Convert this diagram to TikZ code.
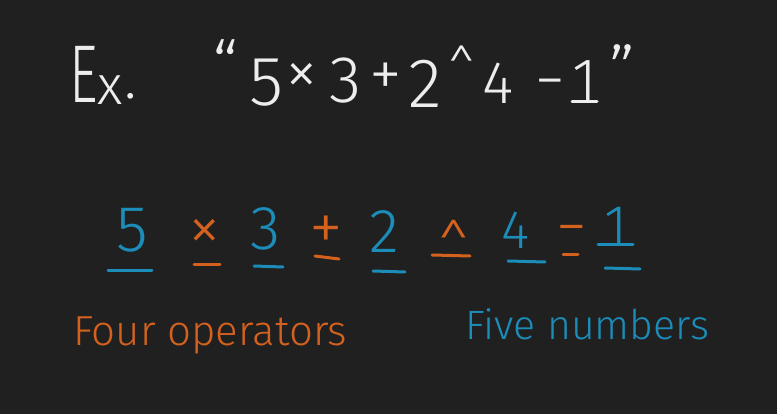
\documentclass[tikz,border=0pt]{standalone}
\usepackage{fontspec}
\setmainfont{Fira Sans Light}
\definecolor{bgc}{HTML}{202020}
\definecolor{inkw}{HTML}{EDEDED}
\definecolor{inkb}{HTML}{1C8CB8}
\definecolor{inko}{HTML}{D4621E}
\newcommand{\fsz}[1]{\fontsize{#1}{#1}\selectfont}
\begin{document}
\begin{tikzpicture}[x=1pt,y=-1pt,
  ch/.style={inner sep=0pt,outer sep=0pt,anchor=center},
  wch/.style={ch,text=inkw},
  bch/.style={ch,text=inkb},
  och/.style={ch,text=inko},
  uline/.style={line width=3pt,line cap=round},
  bline/.style={uline,draw=inkb},
  oline/.style={uline,draw=inko},
  wline/.style={uline,draw=inkw}]
\fill[bgc] (0,0) rectangle (777,414);
\useasboundingbox (0,0) rectangle (777,414);
% top line
\node[wch,font=\fsz{82}] (tE) at (84,74) {\scalebox{0.68}[1]{E}};
\node[wch,font=\fsz{55}] (tx) at (110,90) {x};
\node[wch,font=\fsz{60}] (tdot) at (131,96) {.};
\node[wch,font=\fsz{70}] (tq1) at (225,66) {``};
\node[wch,font=\fsz{70}] (t5) at (267,83) {5};
\node[wch,font=\fsz{66}] (tmul) at (302,79) {×};
\node[wch,font=\fsz{66}] (t3) at (346,81) {3};
\node[wch,font=\fsz{66}] (tplus) at (386,80) {+};
\node[wch,font=\fsz{70}] (t2) at (425,84) {2};
\node[wch,font=\fsz{50}] (tcar) at (462,67) {\textasciicircum};
\node[wch,font=\fsz{60}] (t4) at (498,83) {4};
\node[wch,font=\fsz{60}] (tmin) at (550,90) {−};
\node[wch,font=\fsz{60}] (t1) at (585,81) {1};
\node[wch,font=\fsz{70}] (tq2) at (622,71) {''};
\coordinate (tfootl) at (572,102);
\coordinate (tfootr) at (597,102);
\draw[wline] (tfootl) -- (tfootr);
% middle row
\node[bch,font=\fsz{65}] (m5) at (132,230) {5};
\node[och,font=\fsz{66}] (mmul) at (205,235) {×};
\node[bch,font=\fsz{62}] (m3) at (266,229) {3};
\node[och,font=\fsz{68}] (mplus) at (326,233) {+};
\node[bch,font=\fsz{62}] (m2) at (384,232) {2};
\node[och,font=\fsz{58}] (mcar) at (454,244) {\textasciicircum};
\node[bch,font=\fsz{54}] (m4) at (515,230) {4};
\node[och,font=\fsz{62}] (mmin) at (572,236) {−};
\node[bch,font=\fsz{56}] (m1) at (616,226) {1};
\coordinate (mfootl) at (598,245);
\coordinate (mfootr) at (633,245);
\draw[bline] (mfootl) -- (mfootr);
% underlines
\coordinate (u5a) at (108,271); \coordinate (u5b) at (152,271);
\coordinate (u3a) at (254,266); \coordinate (u3b) at (283,267);
\coordinate (u2a) at (373,271); \coordinate (u2b) at (405,272);
\coordinate (u4a) at (508,261); \coordinate (u4b) at (545,262);
\coordinate (u1a) at (605,268); \coordinate (u1b) at (640,269);
\coordinate (umula) at (194,265); \coordinate (umulb) at (220,265);
\coordinate (uplusa) at (315,256); \coordinate (uplusb) at (339,259);
\coordinate (ucara) at (432,255); \coordinate (ucarb) at (470,256);
\coordinate (umina) at (563,255); \coordinate (uminb) at (578,255);
\draw[bline] (u5a) -- (u5b);
\draw[bline] (u3a) -- (u3b);
\draw[bline] (u2a) -- (u2b);
\draw[bline] (u4a) -- (u4b);
\draw[bline] (u1a) -- (u1b);
\draw[oline] (umula) -- (umulb);
\draw[oline] (uplusa) -- (uplusb);
\draw[oline] (ucara) -- (ucarb);
\draw[oline] (umina) -- (uminb);
% labels
\node[text=inko,font=\fsz{42},inner sep=0pt,anchor=base west] (lops) at (73,345) {Four operators};
\node[text=inkb,font=\fsz{41},inner sep=0pt,anchor=base west] (lnums) at (465,340) {Five numbers};
\end{tikzpicture}
\end{document}
